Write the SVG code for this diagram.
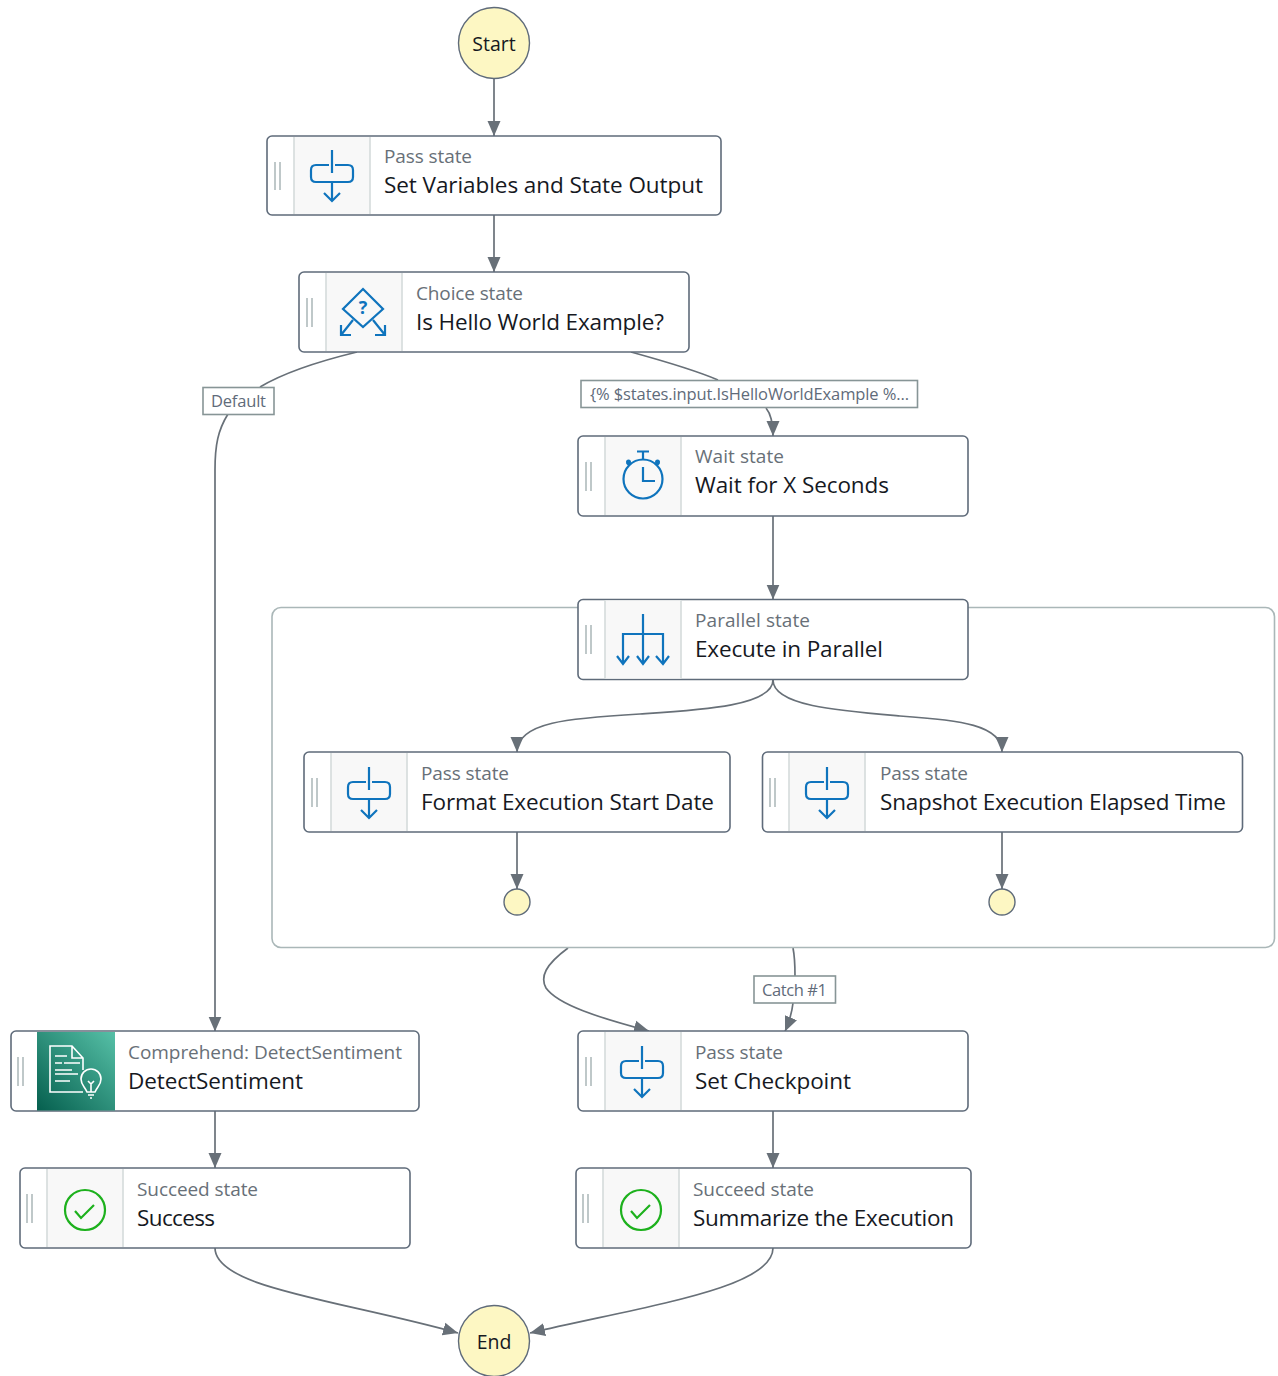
<svg xmlns="http://www.w3.org/2000/svg" width="1278" height="1376" viewBox="0 0 1278 1376">
<style>
text{font-family:"Open Sans","Noto Sans","Liberation Sans",sans-serif}
.box{fill:#fff;stroke:#5f6b7a;stroke-width:1.6}
.well{fill:#f8f8f8}
.div{stroke:#d5dbdb;stroke-width:1.6}
.grip{stroke:#aab7b8;stroke-width:1.5}
.t{font-size:19px;fill:#687078}
.n{font-size:22.5px;fill:#16191f}
.c{fill:#fdf7c3;stroke:#5f6b7a;stroke-width:1.4}
.ct{font-size:19.5px;fill:#16191f;text-anchor:middle}
.e{fill:none;stroke:#687078;stroke-width:1.7}
.ah{fill:#687078;stroke:none}
.lb{fill:#fff;stroke:#879596;stroke-width:1.6}
.lt{font-size:16.5px;fill:#5f6b7a}
.i{fill:none;stroke:#0f74bd;stroke-width:2.2}
.g{fill:none;stroke:#1db11d;stroke-width:2.2}
.w{fill:none;stroke:#fff;stroke-width:1.6}
</style>
<defs>
<linearGradient id="cg" x1="0" y1="1" x2="1" y2="0"><stop offset="0" stop-color="#055f4e"/><stop offset="1" stop-color="#56c0a7"/></linearGradient>
<marker id="a" markerWidth="15" markerHeight="14" refX="15" refY="7" orient="auto" markerUnits="userSpaceOnUse"><path class="ah" d="M0 0.500L15 7L0 13.500Z"/></marker>
<g id="pass"><path class="i" d="M-3 -9H-16Q-21 -9 -21 -4V3Q-21 8 -16 8H16Q21 8 21 3V-4Q21 -9 16 -9H3M0 -24V-1M0 8V27M-8 19L0 27L8 19"/></g>
<g id="ok"><circle class="g" cx="0" cy="0" r="20"/><path class="g" d="M-10 1L-4 8L9 -5"/></g>
</defs>

<g id="connectors">
<path class="e" marker-end="url(#a)" d="M494 79V136"/>
<path class="e" marker-end="url(#a)" d="M494 215V272"/>
<path class="e" d="M357 352C320 361 285 372 260 387"/>
<path class="e" marker-end="url(#a)" d="M228 414C218 430 215 445 215 470V1031.500"/>
<path class="e" d="M631 352C660 360 695 370 718 380"/>
<path class="e" marker-end="url(#a)" d="M766 408C771 414 773 422 773 436"/>
<path class="e" marker-end="url(#a)" d="M773 516V599.500"/>
<path class="e" marker-end="url(#a)" d="M773 680C773 706 700 710 640 714C570 718 517 722 517 752"/>
<path class="e" marker-end="url(#a)" d="M773 680C773 706 840 711 900 716C960 720 1002 725 1002 752"/>
<path class="e" marker-end="url(#a)" d="M517 832V889"/>
<path class="e" marker-end="url(#a)" d="M1002 832V889"/>
<path class="e" marker-end="url(#a)" d="M568 948C545 965 540 977 546 988C558 1005 600 1018 649 1031"/>
<path class="e" d="M793 948C795 958 795 966 795 976"/>
<path class="e" marker-end="url(#a)" d="M793 1003C792 1012 790 1020 785 1031.500"/>
<path class="e" marker-end="url(#a)" d="M215 1111V1168"/>
<path class="e" marker-end="url(#a)" d="M773 1111V1168"/>
<path class="e" marker-end="url(#a)" d="M215 1248C215 1288 340 1300 458 1333"/>
<path class="e" marker-end="url(#a)" d="M773 1248C773 1288 650 1305 530 1333"/>
</g>

<g id="parallel-container"><rect x="272" y="607.500" width="1002.500" height="340" rx="9" fill="none" stroke="#aab7b8" stroke-width="1.6"/></g>

<g id="start"><circle class="c" cx="494" cy="43" r="35.500"/><text class="ct" x="494" y="50.500">Start</text></g>

<g id="set-variables">
<rect class="box" x="267" y="136" width="454" height="79" rx="5"/><rect class="well" x="294" y="137" width="76" height="77"/>
<path class="div" d="M294 137V214M370 137V214"/><path class="grip" d="M275 162V190M280 162V190"/>
<use href="#pass" x="332" y="174"/>
<text class="t" x="384" y="163" textLength="88">Pass state</text><text class="n" x="384" y="192.500" textLength="319">Set Variables and State Output</text>
</g>

<g id="is-hello-world">
<rect class="box" x="299" y="272" width="390" height="80" rx="5"/><rect class="well" x="326" y="273" width="76" height="78"/>
<path class="div" d="M326 273V351M402 273V351"/><path class="grip" d="M307 298V327M312 298V327"/>
<path class="i" d="M363 289L383 309L363 327L343 309ZM353 320L341 335M341 325V335H351M373 320L385 335M385 325V335H375"/>
<text x="363" y="314" text-anchor="middle" font-size="18" font-weight="700" fill="#0f74bd">?</text>
<text class="t" x="416" y="300" textLength="107">Choice state</text><text class="n" x="416" y="329.500" textLength="248">Is Hello World Example?</text>
</g>

<g id="label-default"><rect class="lb" x="203" y="387.500" width="71" height="27"/><text class="lt" x="211" y="407" textLength="55">Default</text></g>
<g id="label-choice"><rect class="lb" x="581" y="380.500" width="336.500" height="27"/><text class="lt" x="590" y="400" textLength="319">{% $states.input.IsHelloWorldExample %…</text></g>

<g id="wait">
<rect class="box" x="578" y="436" width="390" height="80" rx="5"/><rect class="well" x="605" y="437" width="76" height="78"/>
<path class="div" d="M605 437V515M681 437V515"/><path class="grip" d="M586 462V491M591 462V491"/>
<circle class="i" cx="643" cy="479" r="19.500"/><path class="i" d="M643 460V452M637 451.500H649M643 467V481H655M627 463L629 465M659 463L657 465"/>
<circle cx="628.500" cy="462" r="2.500" fill="#0f74bd"/><circle cx="657.500" cy="462" r="2.500" fill="#0f74bd"/>
<text class="t" x="695" y="463" textLength="89">Wait state</text><text class="n" x="695" y="493" textLength="194">Wait for X Seconds</text>
</g>

<g id="execute-parallel">
<rect class="box" x="578" y="599.500" width="390" height="80" rx="5"/><rect class="well" x="605" y="600.500" width="76" height="78"/>
<path class="div" d="M605 600.500V678.500M681 600.500V678.500"/><path class="grip" d="M586 625V654M591 625V654"/>
<path class="i" d="M643 614V663M623 663V634H663V663M617 656L623 664L629 656M637 656L643 664L649 656M656 656L663 664L669 656"/>
<text class="t" x="695" y="627" textLength="115">Parallel state</text><text class="n" x="695" y="656.500" textLength="188">Execute in Parallel</text>
</g>

<g id="format-date">
<rect class="box" x="304" y="752" width="426" height="80" rx="5"/><rect class="well" x="331" y="753" width="76" height="78"/>
<path class="div" d="M331 753V831M407 753V831"/><path class="grip" d="M312 778V807M317 778V807"/>
<use href="#pass" x="369" y="791"/>
<text class="t" x="421" y="780" textLength="88">Pass state</text><text class="n" x="421" y="809.500" textLength="293">Format Execution Start Date</text>
</g>

<g id="snapshot-time">
<rect class="box" x="762.500" y="752" width="480" height="80" rx="5"/><rect class="well" x="789" y="753" width="76" height="78"/>
<path class="div" d="M789 753V831M865 753V831"/><path class="grip" d="M770 778V807M775 778V807"/>
<use href="#pass" x="827" y="791"/>
<text class="t" x="880" y="780" textLength="88">Pass state</text><text class="n" x="880" y="809.500" textLength="346">Snapshot Execution Elapsed Time</text>
</g>

<g id="end-format"><circle class="c" cx="517" cy="902" r="13"/></g>
<g id="end-snapshot"><circle class="c" cx="1002" cy="902" r="13"/></g>

<g id="label-catch"><rect class="lb" x="754" y="976" width="81.500" height="27"/><text class="lt" x="762" y="996" textLength="65">Catch #1</text></g>

<g id="detect-sentiment">
<rect class="box" x="11" y="1031" width="408" height="80" rx="5"/>
<rect x="37" y="1032" width="78" height="78.500" fill="url(#cg)"/>
<path class="grip" d="M18 1057V1086M23 1057V1086"/>
<path class="w" d="M83 1092H50V1046H72L83 1058V1070M72 1046V1058H83M55 1056H67M55 1063H62M64 1063H80M55 1074H78M55 1081H70M55 1070H72"/>
<path class="w" d="M87 1092C85 1087 81 1085 81 1079A10 10 0 1 1 101 1079C101 1085 97 1087 95 1092ZM88 1095H94M90 1098H92M88 1081L91 1084V1092M94 1081L91 1084"/>
<text class="t" x="128" y="1059" textLength="274">Comprehend: DetectSentiment</text><text class="n" x="128" y="1088.500" textLength="175">DetectSentiment</text>
</g>

<g id="set-checkpoint">
<rect class="box" x="578" y="1031" width="390" height="80" rx="5"/><rect class="well" x="605" y="1032" width="76" height="78"/>
<path class="div" d="M605 1032V1110M681 1032V1110"/><path class="grip" d="M586 1057V1086M591 1057V1086"/>
<use href="#pass" x="642" y="1070"/>
<text class="t" x="695" y="1059" textLength="88">Pass state</text><text class="n" x="695" y="1088.500" textLength="156">Set Checkpoint</text>
</g>

<g id="success">
<rect class="box" x="20" y="1168" width="390" height="80" rx="5"/><rect class="well" x="47" y="1169" width="76" height="78"/>
<path class="div" d="M47 1169V1247M123 1169V1247"/><path class="grip" d="M27 1194V1223M32 1194V1223"/>
<use href="#ok" x="85" y="1210"/>
<text class="t" x="137" y="1196" textLength="121">Succeed state</text><text class="n" x="137" y="1225.500" textLength="78">Success</text>
</g>

<g id="summarize">
<rect class="box" x="576" y="1168" width="395" height="80" rx="5"/><rect class="well" x="603" y="1169" width="76" height="78"/>
<path class="div" d="M603 1169V1247M679 1169V1247"/><path class="grip" d="M583 1194V1223M588 1194V1223"/>
<use href="#ok" x="641" y="1210"/>
<text class="t" x="693" y="1196" textLength="121">Succeed state</text><text class="n" x="693" y="1225.500" textLength="261">Summarize the Execution</text>
</g>

<g id="end"><circle class="c" cx="494" cy="1341" r="35.500"/><text class="ct" x="494" y="1348.500">End</text></g>
</svg>
